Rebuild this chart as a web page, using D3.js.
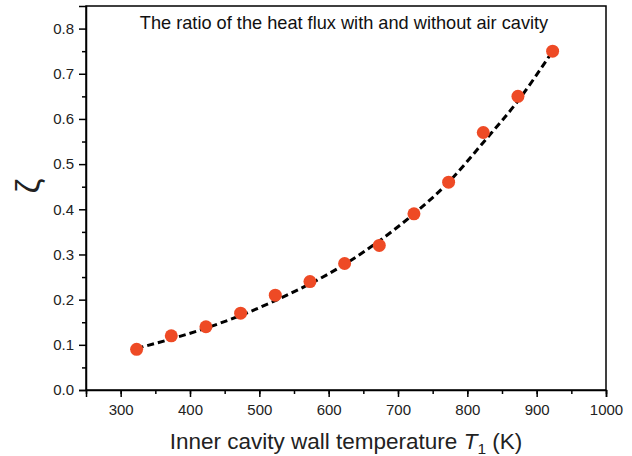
<!DOCTYPE html>
<html><head><meta charset="utf-8">
<script src="https://cdn.jsdelivr.net/npm/d3@7"></script>
<style>body{margin:0;background:#fff}svg{display:block}text{font-family:"Liberation Sans",Arial,sans-serif}</style>
</head><body>
<svg id="c" width="632" height="456"></svg>
<script>
const temps = [323, 373, 423, 473, 523, 573, 623, 673, 723, 773, 823, 873, 923];
const zeta  = [0.09, 0.12, 0.14, 0.17, 0.21, 0.24, 0.28, 0.32, 0.39, 0.46, 0.57, 0.65, 0.75];
const fitT  = [323, 373, 423, 473, 523, 573, 623, 673, 723, 773, 823, 873, 923];
const fitZ  = [0.092, 0.113, 0.137, 0.165, 0.198, 0.235, 0.278, 0.330, 0.390, 0.460, 0.548, 0.640, 0.750];
const xTicks = [300, 400, 500, 600, 700, 800, 900, 1000];
const yTicks = [0.0, 0.1, 0.2, 0.3, 0.4, 0.5, 0.6, 0.7, 0.8];
const titleText = "The ratio of the heat flux with and without air cavity";

const svg = d3.select("#c");
const m = {l: 86, r: 606, t: 6, b: 390};
const x = d3.scaleLinear().domain([250, 1000]).range([m.l, m.r]);
const y = d3.scaleLinear().domain([0, 0.85]).range([m.b, m.t]);

svg.append("rect").attr("x", m.l).attr("y", m.t).attr("width", m.r - m.l).attr("height", m.b - m.t)
  .attr("fill", "none").attr("stroke", "#000").attr("stroke-width", 1.5);

svg.append("g").attr("transform", `translate(0,${m.b})`)
  .call(d3.axisBottom(x).tickValues(d3.range(250, 1001, 50)).tickSize(4).tickFormat(""))
  .call(g => g.select(".domain").remove())
  .selectAll("line").attr("stroke-width", 1.5);
const xa = svg.append("g").attr("transform", `translate(0,${m.b})`)
  .call(d3.axisBottom(x).tickValues(xTicks).tickSize(7).tickPadding(7).tickFormat(d3.format("d")));
xa.attr("font-size", 15).attr("font-family", null);
xa.select(".domain").attr("stroke-width", 1.5);
xa.selectAll("line").attr("stroke-width", 1.5);
xa.selectAll("text").attr("font-size", 15).attr("fill", "#222");

svg.append("g").attr("transform", `translate(${m.l},0)`)
  .call(d3.axisLeft(y).tickValues(d3.range(0.05, 0.85, 0.1)).tickSize(4).tickFormat(""))
  .call(g => g.select(".domain").remove())
  .selectAll("line").attr("stroke-width", 1.5);
const ya = svg.append("g").attr("transform", `translate(${m.l},0)`)
  .call(d3.axisLeft(y).tickValues(yTicks).tickSize(7).tickPadding(5).tickFormat(d3.format(".1f")));
ya.attr("font-size", 15).attr("font-family", null);
ya.select(".domain").attr("stroke-width", 1.5);
ya.selectAll("line").attr("stroke-width", 1.5);
ya.selectAll("text").attr("font-size", 15).attr("fill", "#222");

const line = d3.line().x((d, i) => x(fitT[i])).y(d => y(d)).curve(d3.curveMonotoneX);
svg.append("path").datum(fitZ).attr("d", line).attr("fill", "none")
  .attr("stroke", "#000").attr("stroke-width", 3).attr("stroke-dasharray", "7,4");

svg.append("g").selectAll("circle").data(zeta).join("circle")
  .attr("cx", (d, i) => x(temps[i])).attr("cy", d => y(d)).attr("r", 6.5)
  .attr("fill", "#ee4a25");

svg.append("text").attr("x", 344).attr("y", 29).attr("text-anchor", "middle")
  .attr("font-size", 18.2).attr("fill", "#111").text(titleText);

const xl = svg.append("text").attr("x", 346).attr("y", 449).attr("text-anchor", "middle")
  .attr("font-size", 22.5).attr("fill", "#222");
xl.append("tspan").text("Inner cavity wall temperature ");
xl.append("tspan").attr("font-style", "italic").text("T");
xl.append("tspan").attr("font-size", 15.5).attr("dy", 5).text("1");
xl.append("tspan").attr("dy", -5).text(" (K)");

svg.append("text").attr("transform", "translate(39,186) rotate(-90)").attr("text-anchor", "middle")
  .attr("font-size", 34).attr("fill", "#222").text("ζ");
</script>
</body></html>
